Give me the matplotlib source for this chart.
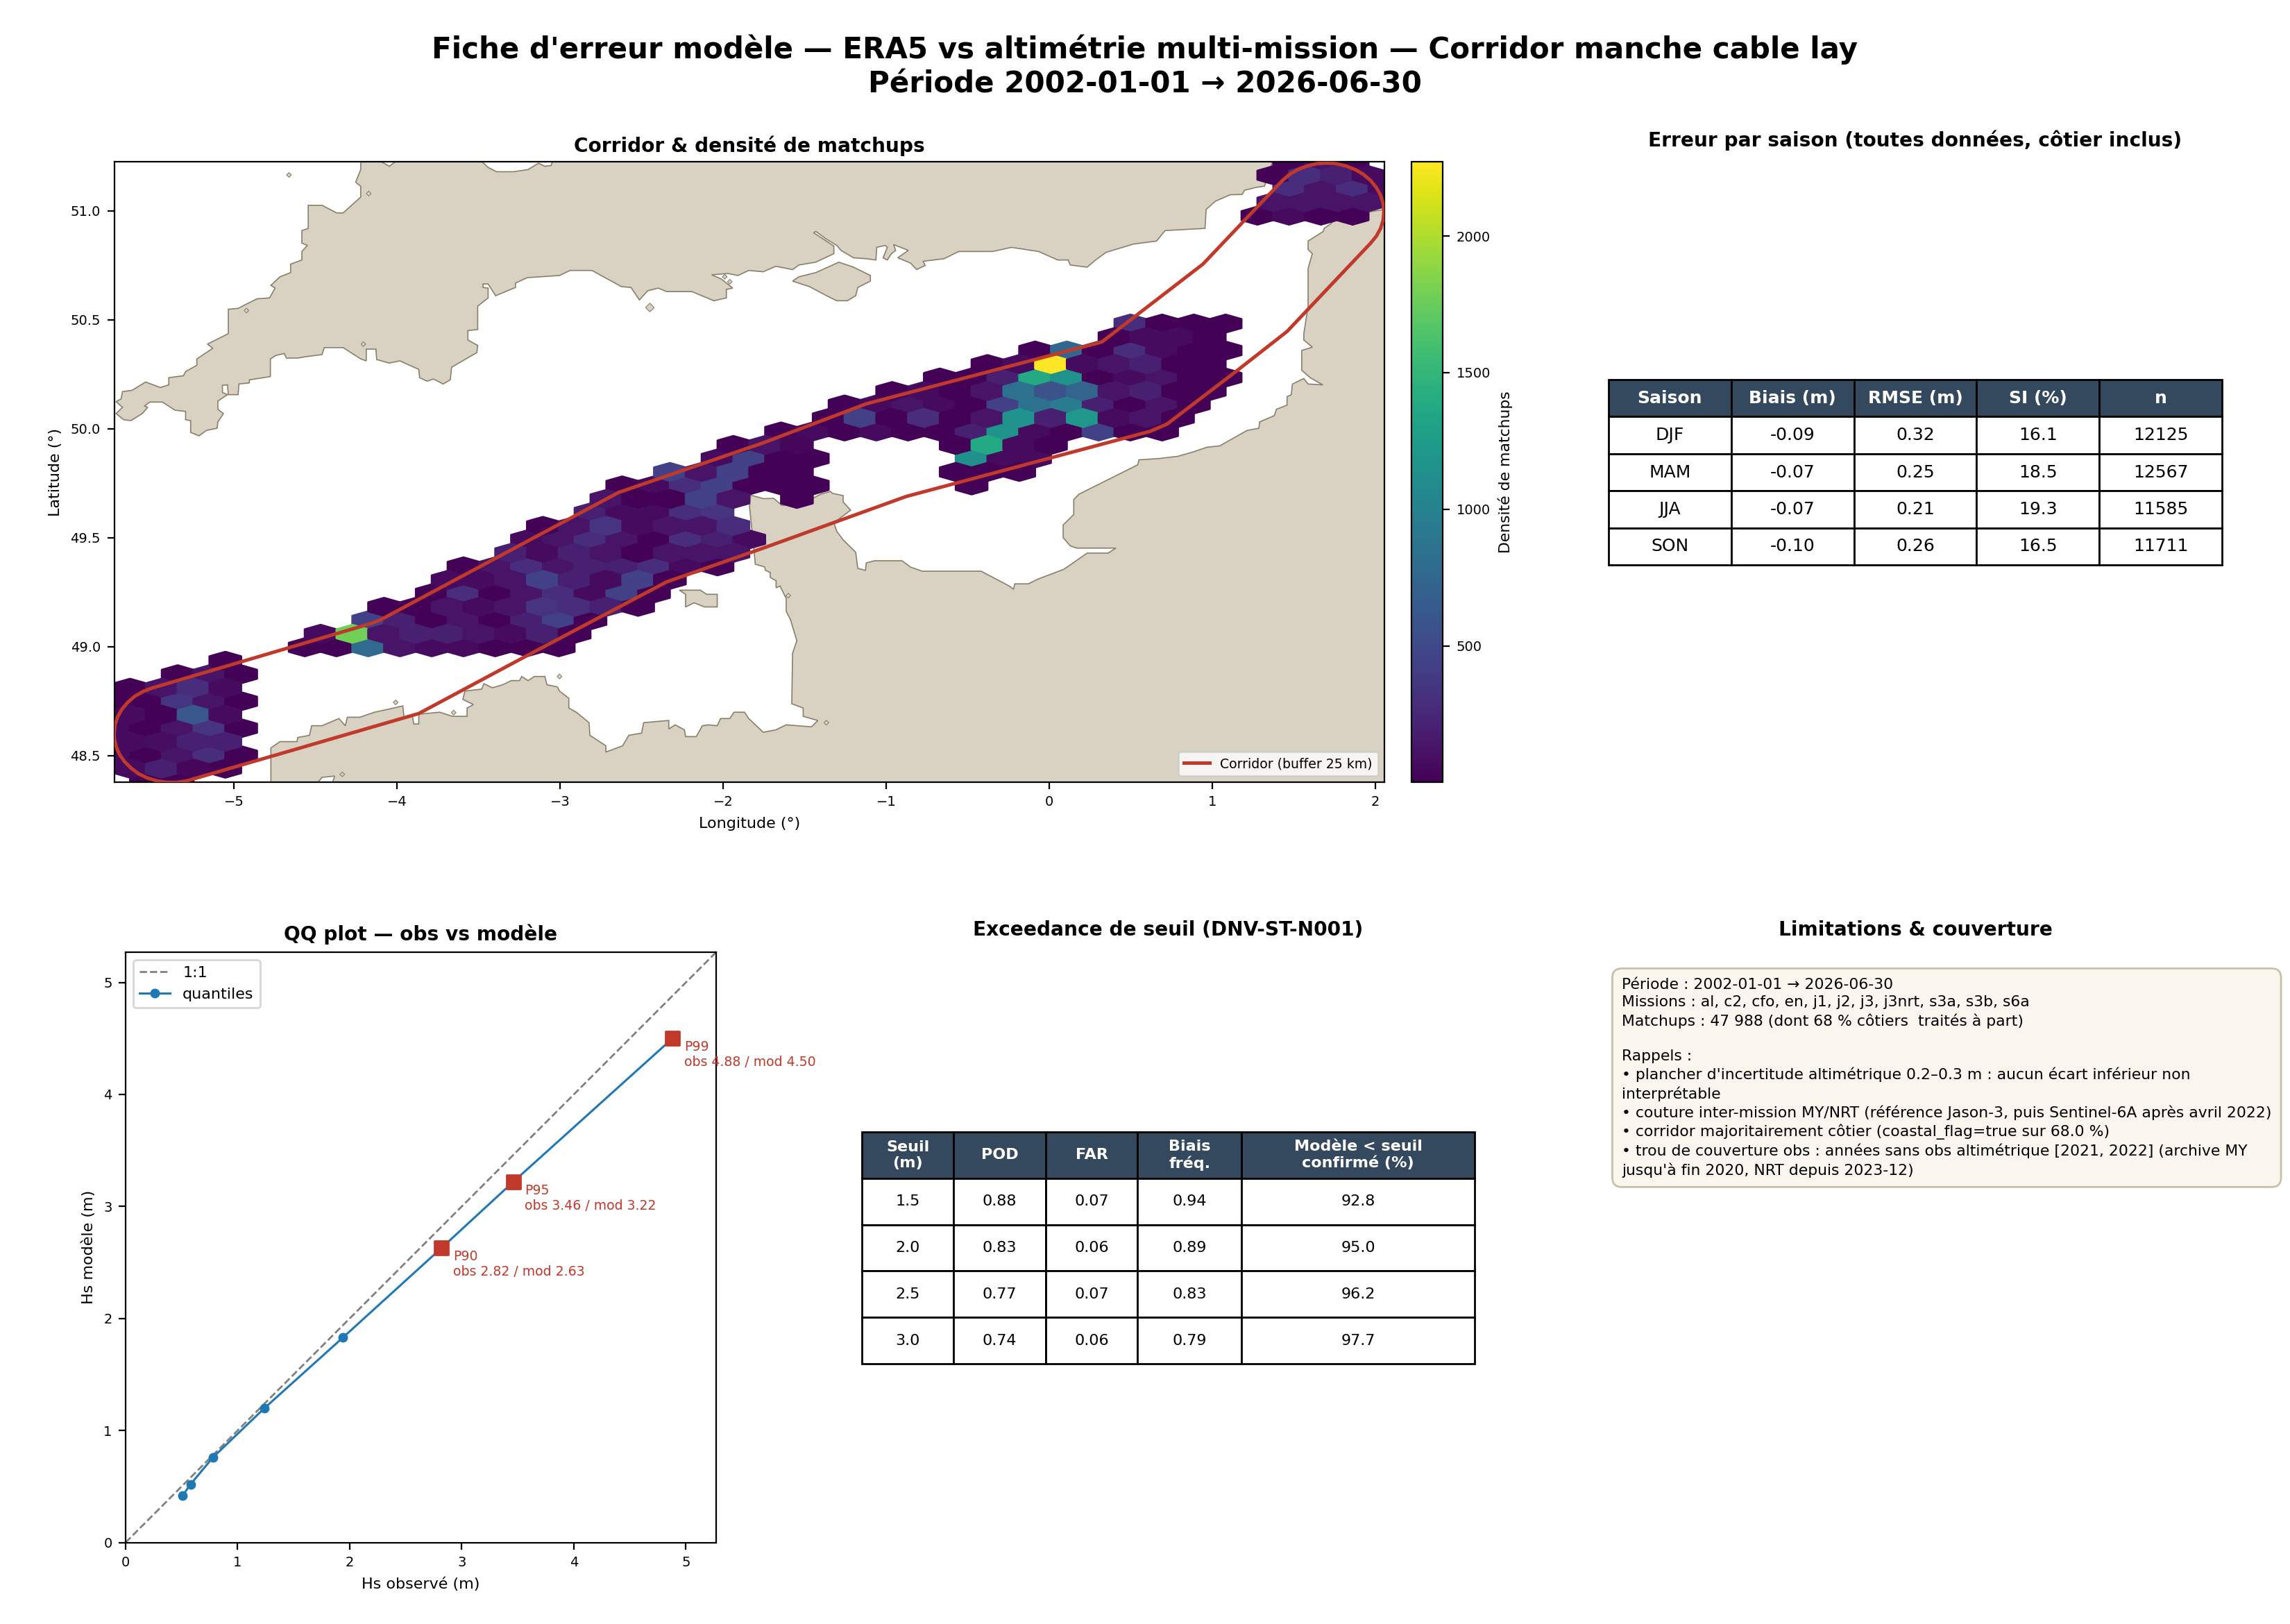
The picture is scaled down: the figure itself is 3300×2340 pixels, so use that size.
import numpy as np
import matplotlib
matplotlib.use("Agg")
import matplotlib.pyplot as plt
from matplotlib.patches import Polygon

W, H = 3300, 2340
LAND = "#d9d2c3"
COAST = "#8a7f6b"
RED = "#c0392b"
BLUE = "#1f77b4"
HEADER = "#34495e"

XLIM = (-5.734, 2.055)
YLIM = (48.378, 51.225)

# Hexagon counts per grid row; columns advance by two half-cells
hex_rows = [0, 1, 2, 3, 4, 5, 6, 7, 8, 9, 10, 11, 12, 13, 14, 15, 16, 17, 18, 19, 20,
            21, 21, 22, 22, 23, 23, 24, 24, 25, 25, 26, 27, 28, 29, 30, 31, 32, 33, 34,
            42, 43, 44, 45, 46]
hex_first_col = [2, 1, 0, 1, 0, 1, 0, 1, 4, 7, 12, 13, 16, 17, 20, 21, 22, 25, 26, 27, 30,
                 31, 43, 32, 54, 35, 53, 38, 54, 39, 53, 42, 45, 46, 49, 52, 55, 58, 63, 64,
                 72, 73, 74, 73, 74]
hex_counts = [
    [15, 15],
    [70, 205, 40, 15],
    [70, 15, 125, 285, 15],
    [70, 80, 205, 205],
    [70, 15, 125, 340, 15],
    [70, 15, 620, 70],
    [15, 15, 350, 125, 15],
    [15, 125, 285, 70],
    [15, 125, 15],
    [15],
    [15, 15, 775, 125, 70, 70, 15, 15, 15],
    [70, 1780, 125, 205, 205, 125, 70, 205, 15],
    [430, 205, 15, 125, 15, 205, 430, 15],
    [15, 15, 125, 70, 125, 340, 285, 205, 15],
    [15, 285, 15, 125, 285, 70, 430, 15],
    [70, 70, 125, 430, 205, 70, 430, 15],
    [15, 125, 285, 125, 205, 205, 285, 70, 15],
    [205, 70, 205, 125, 15, 125, 125, 125],
    [70, 125, 285, 125, 15, 285, 205, 70],
    [15, 125, 340, 70, 125, 125, 285],
    [205, 70, 70, 285, 340],
    [125, 15, 15, 430, 125],
    [15],
    [15, 70, 285, 430, 15, 15, 15],
    [15],
    [430, 125, 430, 15, 15],
    [15, 15, 15],
    [70, 430, 15, 15],
    [1130, 70, 70],
    [15, 125, 40],
    [15, 1370, 70, 15],
    [15, 70, 15, 70, 15, 15, 205, 1150, 70, 15, 430, 15, 15],
    [15, 430, 15, 285, 15, 125, 1170, 205, 1200, 70, 125, 15],
    [15, 70, 125, 70, 15, 430, 860, 950, 205, 15, 125, 15],
    [15, 70, 15, 125, 840, 570, 720, 125, 205, 15, 15],
    [15, 15, 205, 1370, 1150, 15, 70, 125, 15, 15],
    [15, 70, 2272, 70, 125, 205, 15, 15],
    [15, 750, 15, 285, 70, 15, 15],
    [15, 70, 70, 15],
    [285, 15, 15, 15],
    [15, 70, 15, 15],
    [125, 125, 125, 125],
    [285, 125, 285, 70],
    [15, 285, 205, 70],
    [15, 125, 15],
]

# Cable corridor outline (closed buffer around the route)
corridor_lon = [-5.734, -5.729, -5.713, -5.687, -5.651, -5.608, -5.557, -5.501, -4.15, -4.098,
                -2.642, -1.758, -1.122, 0.3225, 0.942, 1.187, 1.43, 1.474, 1.524, 1.58, 1.639,
                1.70, 1.761, 1.82, 1.876, 1.926, 1.97, 2.005, 2.031, 2.047, 2.052, 2.047, 2.031,
                2.005, 1.97, 1.458, 1.161, 0.722, 0.619, -0.877, -1.754, -2.346, -3.209, -3.866,
                -5.288, -5.349, -5.411, -5.472, -5.53, -5.583, -5.63, -5.67, -5.701, -5.722,
                -5.733, -5.734]
corridor_lat = [48.60, 48.639, 48.677, 48.712, 48.744, 48.772, 48.794, 48.81, 49.108, 49.124,
                49.707, 49.934, 50.114, 50.398, 50.755, 50.948, 51.139, 51.167, 51.189, 51.205,
                51.216, 51.219, 51.216, 51.205, 51.189, 51.167, 51.139, 51.107, 51.072, 51.034,
                50.995, 50.956, 50.918, 50.883, 50.851, 50.446, 50.272, 50.021, 49.988, 49.689,
                49.452, 49.297, 48.956, 48.693, 48.384, 48.377, 48.377, 48.384, 48.397, 48.416,
                48.442, 48.472, 48.505, 48.542, 48.58, 48.60]

# Southern England, walked west along the north coast and back east along the Channel
england = [
    (1.40, 51.30), (-3.04, 51.30), (-3.047, 51.226), (-3.054, 51.208), (-3.093, 51.204),
    (-3.132, 51.218), (-3.196, 51.189), (-3.286, 51.179), (-3.389, 51.179), (-3.441, 51.199),
    (-3.48, 51.226), (-3.5, 51.3), (-4.0, 51.3), (-4.008, 51.226), (-4.047, 51.204),
    (-4.098, 51.226), (-4.11, 51.3), (-4.222, 51.3), (-4.222, 51.189), (-4.253, 51.131),
    (-4.222, 51.112), (-4.222, 51.063), (-4.278, 51.025), (-4.330, 50.990), (-4.369, 50.990),
    (-4.459, 51.025), (-4.544, 51.025), (-4.544, 50.919), (-4.583, 50.909), (-4.583, 50.851),
    (-4.549, 50.841), (-4.583, 50.813), (-4.583, 50.774), (-4.652, 50.755), (-4.652, 50.716),
    (-4.717, 50.697), (-4.773, 50.658), (-4.747, 50.645), (-4.781, 50.600), (-4.858, 50.596),
    (-4.974, 50.552), (-5.034, 50.548), (-5.034, 50.436), (-5.162, 50.388), (-5.129, 50.369),
    (-5.227, 50.320), (-5.227, 50.291), (-5.296, 50.262), (-5.309, 50.243), (-5.399, 50.234),
    (-5.399, 50.201), (-5.451, 50.189), (-5.541, 50.214), (-5.624, 50.176), (-5.683, 50.170),
    (-5.691, 50.137), (-5.722, 50.124), (-5.683, 50.098), (-5.722, 50.069), (-5.675, 50.041),
    (-5.631, 50.037), (-5.562, 50.069), (-5.528, 50.098), (-5.549, 50.104), (-5.515, 50.122),
    (-5.438, 50.122), (-5.361, 50.085), (-5.296, 50.079), (-5.296, 50.041), (-5.265, 50.037),
    (-5.265, 49.983), (-5.214, 49.967), (-5.168, 49.992), (-5.103, 50.002), (-5.098, 50.031),
    (-5.064, 50.069), (-5.098, 50.089), (-5.098, 50.127), (-5.039, 50.156), (-5.070, 50.166),
    (-5.070, 50.199), (-5.039, 50.201), (-5.034, 50.156), (-4.974, 50.156), (-4.969, 50.205),
    (-4.905, 50.210), (-4.905, 50.224), (-4.776, 50.239), (-4.776, 50.320), (-4.742, 50.336),
    (-4.691, 50.345), (-4.678, 50.324), (-4.608, 50.324), (-4.562, 50.330), (-4.459, 50.340),
    (-4.446, 50.372), (-4.330, 50.372), (-4.222, 50.320), (-4.188, 50.311), (-4.188, 50.365),
    (-4.129, 50.365), (-4.124, 50.317), (-4.047, 50.301), (-3.982, 50.311), (-3.866, 50.272),
    (-3.861, 50.234), (-3.815, 50.218), (-3.776, 50.228), (-3.717, 50.205), (-3.673, 50.224),
    (-3.665, 50.282), (-3.510, 50.349), (-3.505, 50.382), (-3.565, 50.407), (-3.565, 50.450),
    (-3.505, 50.455), (-3.505, 50.562), (-3.441, 50.600), (-3.441, 50.645), (-3.472, 50.648),
    (-3.472, 50.664), (-3.441, 50.664), (-3.395, 50.610), (-3.273, 50.648), (-3.273, 50.668),
    (-3.201, 50.693), (-3.119, 50.697), (-3.003, 50.703), (-2.938, 50.726), (-2.804, 50.726),
    (-2.624, 50.652), (-2.565, 50.648), (-2.513, 50.591), (-2.462, 50.633), (-2.397, 50.645),
    (-2.346, 50.629), (-2.191, 50.629), (-2.057, 50.587), (-1.980, 50.600), (-1.980, 50.639),
    (-1.941, 50.645), (-2.011, 50.687), (-2.070, 50.706), (-1.972, 50.712), (-1.908, 50.703),
    (-1.843, 50.726), (-1.754, 50.720), (-1.677, 50.745), (-1.574, 50.730), (-1.535, 50.751),
    (-1.432, 50.764), (-1.321, 50.803), (-1.321, 50.838), (-1.445, 50.899), (-1.432, 50.905),
    (-1.367, 50.870), (-1.303, 50.841), (-1.277, 50.818), (-1.200, 50.784), (-1.122, 50.780),
    (-1.063, 50.774), (-1.058, 50.832), (-1.006, 50.841), (-0.993, 50.832), (-1.019, 50.784),
    (-0.993, 50.774), (-0.968, 50.803), (-0.942, 50.818), (-0.955, 50.845), (-0.864, 50.818),
    (-0.929, 50.784), (-0.851, 50.760), (-0.813, 50.730), (-0.761, 50.749), (-0.774, 50.768),
    (-0.645, 50.780), (-0.555, 50.813), (-0.348, 50.813), (-0.232, 50.832), (-0.065, 50.813),
    (0.052, 50.774), (0.116, 50.774), (0.129, 50.751), (0.232, 50.741), (0.284, 50.774),
    (0.348, 50.809), (0.516, 50.847), (0.658, 50.861), (0.710, 50.909), (0.955, 50.919),
    (0.962, 51.006), (1.019, 51.044), (1.109, 51.073), (1.183, 51.075), (1.197, 51.094),
    (1.268, 51.107), (1.32, 51.113), (1.325, 51.126), (1.366, 51.218),
]

isle_of_wight = [
    (-1.574, 50.677), (-1.535, 50.697), (-1.432, 50.716), (-1.29, 50.764), (-1.20, 50.741),
    (-1.097, 50.703), (-1.097, 50.677), (-1.174, 50.648), (-1.187, 50.610), (-1.238, 50.587),
    (-1.303, 50.587), (-1.355, 50.606), (-1.471, 50.652),
]

jersey = [
    (-2.268, 49.259), (-2.140, 49.259), (-2.101, 49.240), (-2.036, 49.240), (-2.036, 49.182),
    (-2.114, 49.182), (-2.178, 49.201), (-2.230, 49.182), (-2.230, 49.240),
]

# Northern France: Pas-de-Calais, Normandy, Cotentin, then Brittany
france = [
    (2.3, 51.05), (2.047, 51.005), (1.962, 50.995), (1.74, 50.95), (1.722, 50.938),
    (1.686, 50.92), (1.68, 50.905), (1.587, 50.861), (1.587, 50.822), (1.613, 50.803),
    (1.587, 50.735), (1.587, 50.562), (1.561, 50.436), (1.561, 50.407), (1.613, 50.374),
    (1.548, 50.359), (1.548, 50.268), (1.600, 50.234), (1.677, 50.201), (1.587, 50.205),
    (1.561, 50.230), (1.491, 50.205), (1.484, 50.156), (1.458, 50.147), (1.458, 50.108),
    (1.393, 50.089), (1.380, 50.060), (1.290, 50.031), (1.285, 50.002), (1.213, 49.992),
    (1.045, 49.921), (0.968, 49.915), (0.877, 49.892), (0.787, 49.873), (0.671, 49.863),
    (0.550, 49.857), (0.542, 49.834), (0.181, 49.699), (0.150, 49.674), (0.150, 49.606),
    (0.085, 49.558), (0.085, 49.500), (0.129, 49.462), (0.168, 49.452), (0.408, 49.452),
    (0.361, 49.429), (0.232, 49.429), (0.090, 49.355), (-0.065, 49.311), (-0.129, 49.288),
    (-0.212, 49.288), (-0.219, 49.263), (-0.245, 49.278), (-0.418, 49.346), (-0.779, 49.346),
    (-0.851, 49.365), (-0.903, 49.394), (-1.071, 49.394), (-1.122, 49.384), (-1.127, 49.350),
    (-1.174, 49.359), (-1.187, 49.433), (-1.226, 49.462), (-1.264, 49.490), (-1.303, 49.529),
    (-1.321, 49.568), (-1.218, 49.626), (-1.264, 49.664), (-1.264, 49.693), (-1.329, 49.703),
    (-1.342, 49.712), (-1.40, 49.70), (-1.5, 49.66), (-1.64, 49.648), (-1.689, 49.68),
    (-1.753, 49.679), (-1.831, 49.695), (-1.838, 49.642), (-1.81, 49.44), (-1.803, 49.378),
    (-1.746, 49.366), (-1.74, 49.35), (-1.711, 49.34), (-1.711, 49.318), (-1.675, 49.302),
    (-1.675, 49.27), (-1.651, 49.278), (-1.613, 49.220), (-1.613, 49.162), (-1.587, 49.124),
    (-1.548, 49.027), (-1.574, 48.969), (-1.579, 48.738), (-1.509, 48.718), (-1.509, 48.680),
    (-1.419, 48.661), (-1.458, 48.632), (-1.613, 48.641), (-1.677, 48.618), (-1.754, 48.607),
    (-1.843, 48.670), (-1.869, 48.699), (-1.933, 48.699), (-1.959, 48.670), (-2.016, 48.670),
    (-2.036, 48.637), (-2.088, 48.641), (-2.127, 48.637), (-2.165, 48.587), (-2.230, 48.587),
    (-2.237, 48.618), (-2.294, 48.641), (-2.333, 48.622), (-2.333, 48.661), (-2.397, 48.657),
    (-2.487, 48.651), (-2.500, 48.603), (-2.578, 48.593), (-2.616, 48.545), (-2.719, 48.516),
    (-2.719, 48.545), (-2.817, 48.593), (-2.822, 48.651), (-2.900, 48.699), (-2.946, 48.718),
    (-2.946, 48.763), (-3.003, 48.796), (-3.016, 48.815), (-3.080, 48.825), (-3.093, 48.863),
    (-3.157, 48.863), (-3.196, 48.844), (-3.235, 48.863), (-3.248, 48.844), (-3.299, 48.844),
    (-3.351, 48.825), (-3.415, 48.811), (-3.467, 48.830), (-3.480, 48.805), (-3.583, 48.796),
    (-3.596, 48.758), (-3.531, 48.734), (-3.570, 48.718), (-3.570, 48.680), (-3.660, 48.680),
    (-3.737, 48.699), (-3.866, 48.690), (-3.866, 48.645), (-3.897, 48.645), (-3.905, 48.680),
    (-3.956, 48.670), (-3.964, 48.728), (-4.021, 48.718), (-4.137, 48.699), (-4.227, 48.676),
    (-4.304, 48.676), (-4.317, 48.637), (-4.356, 48.670), (-4.459, 48.637), (-4.523, 48.637),
    (-4.536, 48.593), (-4.608, 48.583), (-4.613, 48.564), (-4.717, 48.564), (-4.773, 48.535),
    (-4.773, 48.30), (-4.485, 48.30), (-4.485, 48.377), (-4.459, 48.40), (-4.382, 48.406),
    (-4.394, 48.377), (-4.39, 48.2), (2.3, 48.2),
]

islet_lon = [-4.662, -4.173, -4.923, -4.206, -2.449, -1.990, -1.959, -4.008, -3.652, -3.003,
             -4.335, -1.600, -1.367]
islet_lat = [51.164, 51.079, 50.542, 50.388, 50.556, 50.697, 50.674, 48.744, 48.697, 48.863,
             48.414, 49.234, 48.651]
islet_size = [3, 3, 3, 3, 10, 3, 3, 3, 3, 3, 3, 3, 3]

# Quantile-quantile series
qq_obs = [0.51, 0.58, 0.78, 1.24, 1.94, 2.82, 3.46, 4.88]
qq_mod = [0.42, 0.52, 0.76, 1.20, 1.83, 2.63, 3.22, 4.50]
pct_names = ["P90", "P95", "P99"]
pct_obs = [2.82, 3.46, 4.88]
pct_mod = [2.63, 3.22, 4.50]

# Seasonal errors
season_header = ["Saison", "Biais (m)", "RMSE (m)", "SI (%)", "n"]
season_names = ["DJF", "MAM", "JJA", "SON"]
season_bias = ["-0.09", "-0.07", "-0.07", "-0.10"]
season_rmse = ["0.32", "0.25", "0.21", "0.26"]
season_si = ["16.1", "18.5", "19.3", "16.5"]
season_n = ["12125", "12567", "11585", "11711"]

# Threshold exceedance scores
thr_header = ["Seuil\n(m)", "POD", "FAR", "Biais\nfréq.", "Modèle < seuil\nconfirmé (%)"]
thr_values = ["1.5", "2.0", "2.5", "3.0"]
thr_pod = ["0.88", "0.83", "0.77", "0.74"]
thr_far = ["0.07", "0.06", "0.07", "0.06"]
thr_freq = ["0.94", "0.89", "0.83", "0.79"]
thr_conf = ["92.8", "95.0", "96.2", "97.7"]

notes = (
    "Période : 2002-01-01 → 2026-06-30\n"
    "Missions : al, c2, cfo, en, j1, j2, j3, j3nrt, s3a, s3b, s6a\n"
    "Matchups : 47 988 (dont 68 % côtiers  traités à part)\n"
    "\n"
    "Rappels :\n"
    "• plancher d'incertitude altimétrique 0.2–0.3 m : aucun écart inférieur non\n"
    "interprétable\n"
    "• couture inter-mission MY/NRT (référence Jason-3, puis Sentinel-6A après avril 2022)\n"
    "• corridor majoritairement côtier (coastal_flag=true sur 68.0 %)\n"
    "• trou de couverture obs : années sans obs altimétrique [2021, 2022] (archive MY\n"
    "jusqu'à fin 2020, NRT depuis 2023-12)"
)


def rect(left, top, right, bottom):
    return [left / W, 1 - bottom / H, (right - left) / W, (bottom - top) / H]


def styled_table(ax, rows, header, bbox, col_widths, font):
    table = ax.table(cellText=rows, colLabels=header, cellLoc="center",
                     colWidths=col_widths, bbox=bbox)
    table.auto_set_font_size(False)
    table.set_fontsize(font)
    for (row, _), cell in table.get_celld().items():
        cell.set_edgecolor("black")
        cell.set_linewidth(1.0)
        if row == 0:
            cell.set_facecolor(HEADER)
            cell.set_text_props(color="white", fontweight="bold")
    return table


fig = plt.figure(figsize=(16.5, 11.7), dpi=200)
fig.text(0.5, 1 - 96 / H,
         "Fiche d'erreur modèle — ERA5 vs altimétrie multi-mission — Corridor manche cable lay\n"
         "Période 2002-01-01 → 2026-06-30",
         ha="center", va="center", fontsize=15.12, fontweight="bold")

# Map panel
ax_map = fig.add_axes(rect(164.5, 233, 1995, 1127))
for outline in (england, france, isle_of_wight, jersey):
    ax_map.add_patch(Polygon(outline, closed=True, facecolor=LAND, edgecolor=COAST,
                             linewidth=0.6, zorder=1))
ax_map.scatter(islet_lon, islet_lat, s=islet_size, marker="D", facecolor=LAND, edgecolor=COAST,
               linewidth=0.4, zorder=1)

half_dx = (XLIM[1] - XLIM[0]) / 40 / 2
half_dy = (YLIM[1] - YLIM[0]) / 23 / 2
hex_lon, hex_lat, hex_val = [], [], []
for row, first, counts in zip(hex_rows, hex_first_col, hex_counts):
    for k, count in enumerate(counts):
        hex_lon.append(XLIM[0] + (first + 2 * k) * half_dx)
        hex_lat.append(YLIM[0] + row * half_dy)
        hex_val.append(count)
hb = ax_map.hexbin(hex_lon, hex_lat, C=hex_val, gridsize=40, extent=(*XLIM, *YLIM),
                   reduce_C_function=np.sum, cmap="viridis", vmin=1, vmax=2272, zorder=2)
ax_map.plot(corridor_lon, corridor_lat, color=RED, lw=1.8, zorder=3,
            label="Corridor (buffer 25 km)")
ax_map.set_xlim(*XLIM)
ax_map.set_ylim(*YLIM)
ax_map.set_xticks(range(-5, 3))
ax_map.set_yticks([48.5, 49.0, 49.5, 50.0, 50.5, 51.0])
ax_map.tick_params(labelsize=7)
ax_map.set_xlabel("Longitude (°)", fontsize=8)
ax_map.set_ylabel("Latitude (°)", fontsize=8)
ax_map.set_title("Corridor & densité de matchups", fontsize=10.08, fontweight="bold", pad=5)
ax_map.legend(loc="lower right", fontsize=6.8)

cax = fig.add_axes(rect(2034, 233, 2079, 1127))
cbar = fig.colorbar(hb, cax=cax)
cbar.set_ticks([500, 1000, 1500, 2000])
cbar.ax.tick_params(labelsize=7)
cbar.set_label("Densité de matchups", fontsize=7.9)

# Seasonal table panel
ax_season = fig.add_axes(rect(2318, 233, 3202, 1127))
ax_season.axis("off")
ax_season.set_title("Erreur par saison (toutes données, côtier inclus)", fontsize=10.08,
                    fontweight="bold", pad=8)
season_rows = list(zip(season_names, season_bias, season_rmse, season_si, season_n))
styled_table(ax_season, season_rows, season_header, [0, 0.350, 1, 0.2987], [0.2] * 5, 9)

# QQ panel
ax_qq = fig.add_axes(rect(181, 1372, 1032, 2222.5))
ax_qq.plot([0, 5.27], [0, 5.27], ls="--", color="gray", lw=1, label="1:1")
ax_qq.plot(qq_obs, qq_mod, "-o", color=BLUE, lw=1.1, ms=4, label="quantiles")
ax_qq.scatter(pct_obs, pct_mod, marker="s", s=55, color=RED, zorder=5)
for name, ox, mx in zip(pct_names, pct_obs, pct_mod):
    ax_qq.annotate(f"{name}\nobs {ox:.2f} / mod {mx:.2f}", (ox, mx),
                   textcoords="offset points", xytext=(6, -1), va="top",
                   fontsize=6.8, color=RED, annotation_clip=False)
ax_qq.set_xlim(0, 5.27)
ax_qq.set_ylim(0, 5.27)
ax_qq.set_xticks(range(6))
ax_qq.set_yticks(range(6))
ax_qq.tick_params(labelsize=7)
ax_qq.set_xlabel("Hs observé (m)", fontsize=8)
ax_qq.set_ylabel("Hs modèle (m)", fontsize=8)
ax_qq.set_title("QQ plot — obs vs modèle", fontsize=10.08, fontweight="bold", pad=6)
ax_qq.legend(loc="upper left", fontsize=8)

# Threshold table panel
ax_thr = fig.add_axes(rect(1242, 1372, 2125, 2222))
ax_thr.axis("off")
ax_thr.set_title("Exceedance de seuil (DNV-ST-N001)", fontsize=10.08, fontweight="bold", pad=8.5)
thr_rows = list(zip(thr_values, thr_pod, thr_far, thr_freq, thr_conf))
styled_table(ax_thr, thr_rows, thr_header, [0, 0.3024, 1, 0.393],
             [0.15, 0.15, 0.15, 0.17, 0.38], 8)

# Notes panel
ax_notes = fig.add_axes(rect(2318, 1372, 3202, 2222))
ax_notes.axis("off")
ax_notes.set_title("Limitations & couverture", fontsize=10.08, fontweight="bold", pad=8.5)
fig.text(2337 / W, 1 - 1409 / H, notes, ha="left", va="top", fontsize=7.88, linespacing=1.33,
         bbox=dict(boxstyle="round,pad=0.62", facecolor="#faf6ee", edgecolor="#c8c0a8"))

fig.savefig("out.png", dpi=200)
